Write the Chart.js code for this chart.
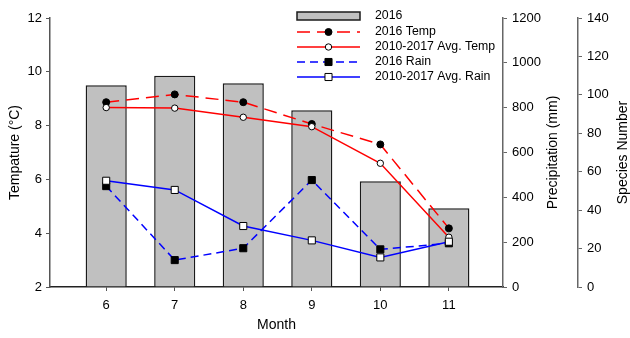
<!DOCTYPE html>
<html lang="en">
<head>
  <meta charset="UTF-8" />
  <title>Temperature, rain and species by month</title>
  <script src="https://cdn.jsdelivr.net/npm/chart.js"></script>
  <style>
    html, body { margin: 0; padding: 0; background: #fff; }
    #wrap { width: 630px; height: 338px; }
  </style>
</head>
<body>
  <div id="wrap"><canvas id="chart" width="630" height="338"></canvas></div>

  <script>
    // data
    const months = [6, 7, 8, 9, 10, 11];
    const species2016 = [105, 110, 106, 92, 55, 41];
    const temp2016 = [8.87, 9.16, 8.87, 8.06, 7.30, 4.18];
    const tempAvg = [8.67, 8.65, 8.31, 7.96, 6.60, 3.85];
    const rain2016 = [450, 120, 173, 477, 168, 195];
    const rainAvg = [474, 433, 272, 208, 132, 202];

    const tempTicks = [2, 4, 6, 8, 10, 12];
    const rainTicks = [0, 200, 400, 600, 800, 1000, 1200];
    const speciesTicks = [0, 20, 40, 60, 80, 100, 120, 140];

    const FONT = '"Liberation Sans", Arial, sans-serif';
    const pts = arr => arr.map((v, i) => ({ x: months[i], y: v }));
    const fixTicks = list => scale => { scale.ticks = list.map(v => ({ value: v })); };

    // legend + right-hand titles drawn by hand (Chart.js rotates right titles the other way)
    const extras = {
      id: 'extras',
      afterDraw(chart) {
        const ctx = chart.ctx;
        const area = chart.chartArea;
        const ds = chart.data.datasets;
        ctx.save();

        // legend
        const x1 = area.right - 206, x2 = area.right - 143, tx = area.right - 128;
        const rows = [16, 32, 47, 62, 77];
        ctx.font = '12.3px ' + FONT;
        ctx.fillStyle = '#000';
        ctx.textBaseline = 'middle';
        rows.forEach((y, i) => {
          const d = ds[i];
          if (d.type === 'bar') {
            ctx.fillStyle = d.backgroundColor;
            ctx.fillRect(x1, y - 4, x2 - x1, 8);
            ctx.strokeStyle = d.borderColor;
            ctx.lineWidth = 1.5;
            ctx.strokeRect(x1, y - 4, x2 - x1, 8);
          } else {
            ctx.strokeStyle = d.borderColor;
            ctx.lineWidth = d.borderWidth;
            ctx.setLineDash(d.borderDash || []);
            ctx.beginPath();
            ctx.moveTo(x1, y);
            ctx.lineTo(x2, y);
            ctx.stroke();
            ctx.setLineDash([]);
            const mx = (x1 + x2) / 2;
            ctx.fillStyle = d.pointBackgroundColor;
            ctx.strokeStyle = '#000';
            ctx.lineWidth = 1;
            ctx.beginPath();
            if (d.pointStyle === 'rect') {
              const s = d.pointRadius * Math.SQRT1_2;
              ctx.rect(mx - s, y - s, 2 * s, 2 * s);
            } else {
              ctx.arc(mx, y, d.pointRadius, 0, Math.PI * 2);
            }
            ctx.fill();
            ctx.stroke();
          }
          ctx.fillStyle = '#000';
          ctx.textAlign = 'left';
          ctx.fillText(d.label, tx, y);
        });

        // right axis titles, reading bottom to top
        ctx.font = '14px ' + FONT;
        ctx.textAlign = 'center';
        const cy = (area.top + area.bottom) / 2;
        [['y2', 'Precipitation (mm)', 50], ['y3', 'Species Number', 45]].forEach(([id, txt, off]) => {
          const sc = chart.scales[id];
          ctx.save();
          ctx.translate(sc.left + off, cy);
          ctx.rotate(-Math.PI / 2);
          ctx.fillText(txt, 0, 0);
          ctx.restore();
        });
        ctx.restore();
      }
    };

    const axisTicks = { font: { family: FONT, size: 13 }, color: '#000', callback: v => String(v) };

    new Chart(document.getElementById('chart'), {
      data: {
        datasets: [
          {
            type: 'bar', label: '2016', data: pts(species2016), yAxisID: 'y3',
            backgroundColor: '#c0c0c0', borderColor: '#1a1a1a', borderWidth: 1.5,
            categoryPercentage: 1, barPercentage: 0.6, order: 10
          },
          {
            type: 'line', label: '2016 Temp', data: pts(temp2016), yAxisID: 'y',
            borderColor: '#ff0000', borderWidth: 1.5, borderDash: [13, 7],
            pointStyle: 'circle', pointRadius: 3.5, pointBackgroundColor: '#000',
            pointBorderColor: '#000', pointBorderWidth: 1, order: 4
          },
          {
            type: 'line', label: '2010-2017 Avg. Temp', data: pts(tempAvg), yAxisID: 'y',
            borderColor: '#ff0000', borderWidth: 1.5,
            pointStyle: 'circle', pointRadius: 3.2, pointBackgroundColor: '#fff',
            pointBorderColor: '#000', pointBorderWidth: 1, order: 3
          },
          {
            type: 'line', label: '2016 Rain', data: pts(rain2016), yAxisID: 'y2',
            borderColor: '#0000ff', borderWidth: 1.5, borderDash: [8, 5],
            pointStyle: 'rect', pointRadius: 5, pointBackgroundColor: '#000',
            pointBorderColor: '#000', pointBorderWidth: 1, order: 2
          },
          {
            type: 'line', label: '2010-2017 Avg. Rain', data: pts(rainAvg), yAxisID: 'y2',
            borderColor: '#0000ff', borderWidth: 1.5,
            pointStyle: 'rect', pointRadius: 5, pointBackgroundColor: '#fff',
            pointBorderColor: '#000', pointBorderWidth: 1, order: 1
          }
        ]
      },
      options: {
        responsive: false,
        animation: false,
        layout: { padding: { top: 18, right: 0, left: 0, bottom: 0 } },
        plugins: { legend: { display: false }, tooltip: { enabled: false } },
        scales: {
          x: {
            type: 'linear', min: 5.18, max: 11.79, offset: false,
            afterBuildTicks: fixTicks(months),
            afterFit: s => { s.height = 51; },
            grid: { drawOnChartArea: false, offset: false, tickLength: 4, tickColor: '#555' },
            border: { color: '#222', width: 1.5 },
            ticks: { ...axisTicks, padding: 7 },
            title: { display: true, text: 'Month', font: { family: FONT, size: 14 }, color: '#000', padding: { top: 6 } }
          },
          y: {
            position: 'left', min: 2, max: 12,
            afterBuildTicks: fixTicks(tempTicks),
            afterFit: s => { s.width = 50; },
            grid: { drawOnChartArea: false, tickLength: 4, tickColor: '#555' },
            border: { color: '#555', width: 1.5 },
            ticks: { ...axisTicks, padding: 4 },
            title: { display: true, text: 'Tempature (°C)', font: { family: FONT, size: 14 }, color: '#000', padding: { top: 7, bottom: 0 } }
          },
          y2: {
            position: 'right', min: 0, max: 1200,
            afterBuildTicks: fixTicks(rainTicks),
            afterFit: s => { s.width = 75; },
            grid: { drawOnChartArea: false, tickLength: 4, tickColor: '#666' },
            border: { color: '#666', width: 1.5 },
            ticks: { ...axisTicks, padding: 5 }
          },
          y3: {
            position: 'right', min: 0, max: 140,
            afterBuildTicks: fixTicks(speciesTicks),
            afterFit: s => { s.width = 52; },
            grid: { drawOnChartArea: false, tickLength: 4, tickColor: '#666' },
            border: { color: '#666', width: 1.5 },
            ticks: { ...axisTicks, padding: 5 }
          }
        }
      },
      plugins: [extras]
    });
  </script>
</body>
</html>
